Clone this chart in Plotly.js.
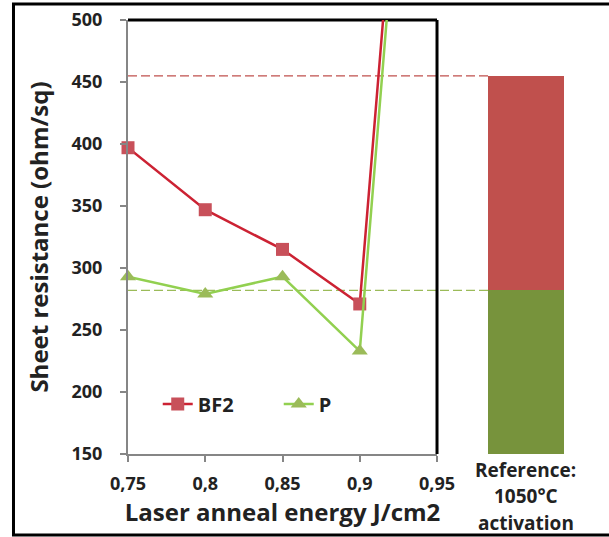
<!DOCTYPE html>
<html>
<head>
<meta charset="utf-8">
<script src="https://cdn.plot.ly/plotly-3.0.1.min.js"></script>
<style>html,body{margin:0;padding:0;background:#fff;}#chart{width:609px;height:537px;}</style>
</head>
<body>
<div id="chart"></div>
<script>
// ---- data ----
var energy = [0.75, 0.8, 0.85, 0.9, 0.95];
var bf2 = [397, 347, 315, 271, 1030];
var pSeries = [293, 279, 293, 233, 1000];
var xTickVals = [0.75, 0.8, 0.85, 0.9, 0.95];
var xTickText = ['0,75', '0,8', '0,85', '0,9', '0,95'];
var yTickVals = [150, 200, 250, 300, 350, 400, 450, 500];
var refCategory = ['ref'];
var refBF2 = 455;
var refP = 282;
var refLabelLines = ['Reference:', '1050°C', 'activation'];

// ---- style ----
var FONT = 'Lato, "Open Sans", sans-serif';
var TFONT = '"Open Sans", Lato, sans-serif';
var TXT = '#222222';
var redBar = '#C0504D', greenBar = '#77933C';
var redLine = '#CC2233', greenLine = '#92D050';
var redMarker = '#C8505A', greenMarker = '#9BBB59';

var xDom = [0, 0.6547];
var x2Dom = [0.7627, 0.9237];

var traces = [
  {x: energy, y: bf2, name: 'BF2', type: 'scatter', mode: 'lines+markers',
   cliponaxis: false,
   line: {color: redLine, width: 2.5},
   marker: {symbol: 'square', size: 13, color: redMarker}},
  {x: energy, y: pSeries, name: 'P', type: 'scatter', mode: 'lines+markers',
   cliponaxis: false,
   line: {color: greenLine, width: 2.5},
   marker: {symbol: 'triangle-up', size: 14, color: greenMarker}},
  {x: refCategory, y: [refP], type: 'bar', xaxis: 'x2', yaxis: 'y',
   marker: {color: greenBar}, showlegend: false, hoverinfo: 'skip'},
  {x: refCategory, y: [refBF2 - refP], type: 'bar', xaxis: 'x2', yaxis: 'y',
   marker: {color: redBar}, showlegend: false, hoverinfo: 'skip'}
];

var annotations = refLabelLines.map(function (t, i) {
  return {xref: 'x2', yref: 'paper', x: 0, y: -0.036 - i * 0.061, yanchor: 'middle', showarrow: false,
          text: t, align: 'center',
          font: {family: TFONT, size: 19, weight: 700, color: TXT}};
});

var layout = {
  width: 609, height: 537,
  margin: {l: 128, r: 9, t: 20, b: 83},
  paper_bgcolor: '#ffffff', plot_bgcolor: 'rgba(0,0,0,0)',
  separators: ',.',
  barmode: 'stack', bargap: 0,
  font: {family: FONT, color: TXT},
  showlegend: true,
  legend: {orientation: 'h', traceorder: 'normal', x: 0.063, xanchor: 'left', y: 0.115, yanchor: 'middle',
           font: {family: TFONT, size: 20, weight: 700, color: TXT},
           bgcolor: 'rgba(0,0,0,0)', entrywidth: 76, entrywidthmode: 'pixels',
           itemwidth: 30},
  xaxis: {domain: xDom, range: [0.75, 0.95], tickvals: xTickVals, ticktext: xTickText,
          showline: true, linecolor: '#868686', linewidth: 2,
          ticks: 'outside', ticklen: 6, tickwidth: 2, tickcolor: '#868686',
          ticklabelstandoff: 6,
          showgrid: false, zeroline: false,
          tickfont: {family: TFONT, size: 18, weight: 700, color: TXT},
          title: {text: 'Laser anneal energy J/cm2', standoff: 8,
                  font: {family: TFONT, size: 24, weight: 700, color: TXT}}},
  yaxis: {range: [150, 500], tickvals: yTickVals,
          showline: true, linecolor: '#868686', linewidth: 2,
          ticks: 'outside', ticklen: 6, tickwidth: 2, tickcolor: '#868686',
          ticklabelstandoff: 14,
          showgrid: false, zeroline: false,
          tickfont: {family: TFONT, size: 18, weight: 700, color: TXT},
          title: {text: 'Sheet resistance (ohm/sq)', standoff: 16,
                  font: {family: TFONT, size: 24, weight: 700, color: TXT}}},
  xaxis2: {domain: x2Dom, anchor: 'y', type: 'category', range: [-0.5, 0.5],
           showticklabels: false, showline: false, showgrid: false, zeroline: false, ticks: ''},
  shapes: [
    {type: 'line', xref: 'paper', yref: 'y', x0: 0, x1: x2Dom[0], y0: refBF2, y1: refBF2,
     line: {color: redBar, width: 1.2, dash: '9px,4px'}, layer: 'below'},
    {type: 'line', xref: 'paper', yref: 'y', x0: 0, x1: x2Dom[0], y0: refP, y1: refP,
     line: {color: greenMarker, width: 1.2, dash: '9px,4px'}, layer: 'below'},
    {type: 'line', xref: 'paper', yref: 'paper', x0: 0, x1: xDom[1], y0: 1, y1: 1,
     line: {color: '#000000', width: 3}, layer: 'below'},
    {type: 'line', xref: 'paper', yref: 'paper', x0: xDom[1], x1: xDom[1], y0: 0, y1: 1,
     line: {color: '#000000', width: 3}, layer: 'below'},
    {type: 'rect', xref: 'paper', yref: 'paper', x0: -0.2426, x1: 1.06, y0: -0.1866, y1: 1.0369,
     line: {color: '#000000', width: 3}}
  ],
  annotations: annotations
};

Plotly.newPlot('chart', traces, layout, {displayModeBar: false, staticPlot: true});
</script>
</body>
</html>
